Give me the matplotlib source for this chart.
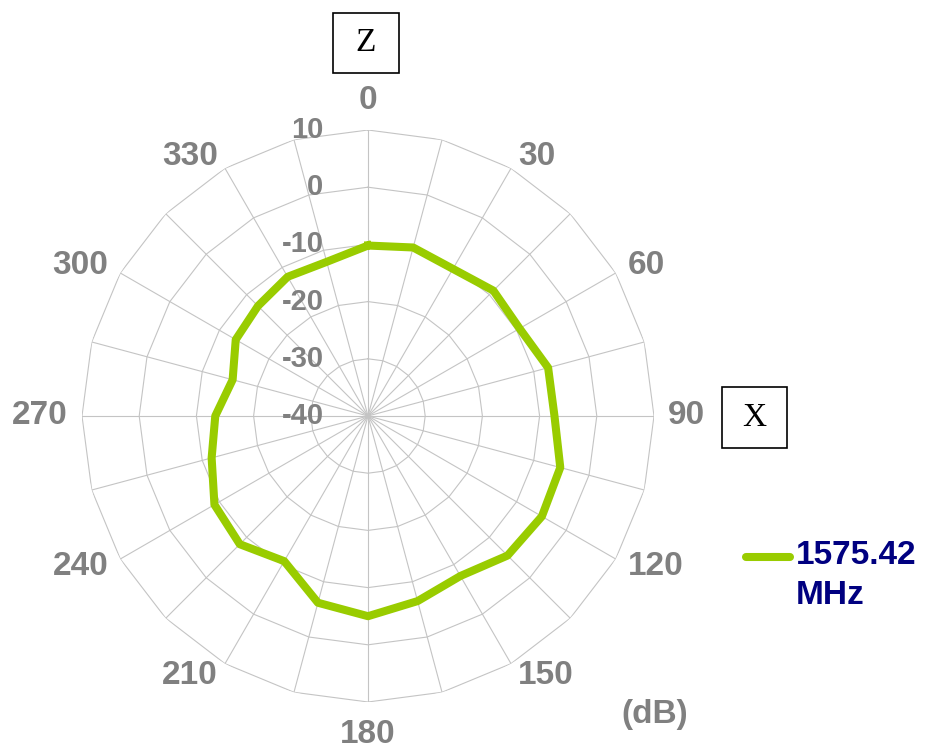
import numpy as np
import matplotlib
matplotlib.use("Agg")
import matplotlib.pyplot as plt
from matplotlib.lines import Line2D
from matplotlib.patches import Rectangle

# radiation pattern, 1575.42 MHz, dB every 15 degrees (clockwise from Z)
angles_deg = [0, 15, 30, 45, 60, 75, 90, 105, 120, 135, 150, 165,
              180, 195, 210, 225, 240, 255, 270, 285, 300, 315, 330, 345]
gain_db = [-10.2, -9.5, -10.3, -9.0, -9.4, -7.4, -7.4, -5.2, -4.9, -5.5, -7.7, -6.5,
           -5.0, -6.2, -10.7, -8.3, -9.0, -11.7, -13.3, -15.5, -13.3, -12.8, -11.9, -12.1]
ring_values = [-40, -30, -20, -10, 0, 10]
angle_labels = ["0", "30", "60", "90", "120", "150", "180", "210", "240", "270", "300", "330"]
series_name = "1575.42\nMHz"

GRID = "#c4c4c4"
LABEL = "#808080"
GREEN = "#99cc00"
NAVY = "#000080"

W, H = 926, 751
fig = plt.figure(figsize=(W / 100, H / 100), dpi=100)
plt.rcParams["font.family"] = ["Liberation Sans", "DejaVu Sans"]

# polar axes centred at (368, 416) px, outer ring radius 286 px
cx, cy, R = 368, 416, 286
ax = fig.add_axes([(cx - R) / W, (H - cy - R) / H, 2 * R / W, 2 * R / H], projection="polar")
ax.set_theta_zero_location("N")
ax.set_theta_direction(-1)
ax.set_rlim(ring_values[0], ring_values[-1])
ax.grid(False)
ax.set_xticks([])
ax.set_yticks([])
ax.spines["polar"].set_visible(False)

# polygon grid
spokes = np.deg2rad(np.arange(0, 360, 15))
for t in spokes:
    ax.plot([t, t], [ring_values[0], ring_values[-1]], color=GRID, lw=0.8, zorder=1)
ring_t = np.append(spokes, spokes[0])
for v in ring_values[1:]:
    ax.plot(ring_t, [v] * len(ring_t), color=GRID, lw=0.8, zorder=1)

# radial labels along the 0 spoke
for v in ring_values:
    ax.annotate(str(v), xy=(0, v), xytext=(-32, 0), textcoords="offset points",
                ha="right", va="center", fontsize=21, fontweight="bold", color=LABEL, zorder=3)

# angle labels
r_lab = ring_values[-1] + 2.45
for lab in angle_labels:
    d = int(lab)
    r = r_lab
    if d in (0, 180):
        ha = "center"
        va = "bottom" if d == 0 else "top"
        if d == 180:
            r += 0.6
    else:
        ha = "left" if d < 180 else "right"
        va = "center"
    ax.text(np.deg2rad(d), r, lab, ha=ha, va=va, fontsize=24,
            fontweight="bold", color=LABEL)

# data
th = np.deg2rad(angles_deg + [angles_deg[0]])
vals = gain_db + [gain_db[0]]
ax.plot(th, vals, color=GREEN, lw=5.8, zorder=4)

# (dB)
fig.text(655 / W, 1 - 715 / H, "(dB)", ha="center", va="center", fontsize=24,
         fontweight="bold", color=LABEL)

# axis boxes
for (x0, y0, x1, y1, letter) in [(333, 13, 399, 73, "Z"), (722, 387, 787, 448, "X")]:
    fig.patches.append(Rectangle((x0 / W, 1 - y1 / H), (x1 - x0) / W, (y1 - y0) / H,
                                 transform=fig.transFigure, fill=False, ec="black", lw=1.2))
    fig.text((x0 + x1) / 2 / W, 1 - (y0 + y1) / 2 / H, letter, ha="center", va="center",
             fontsize=24, family="Liberation Serif", color="black")

# legend
fig.add_artist(Line2D([746 / W, 790 / W], [1 - 557 / H, 1 - 557 / H], transform=fig.transFigure,
                      color=GREEN, lw=5.8, solid_capstyle="round"))
lines = series_name.split("\n")
fig.text(796 / W, 1 - 556 / H, lines[0], ha="left", va="center", fontsize=24,
         fontweight="bold", color=NAVY)
fig.text(796 / W, 1 - 596 / H, lines[1], ha="left", va="center", fontsize=24,
         fontweight="bold", color=NAVY)

fig.savefig("out.png", dpi=100)
